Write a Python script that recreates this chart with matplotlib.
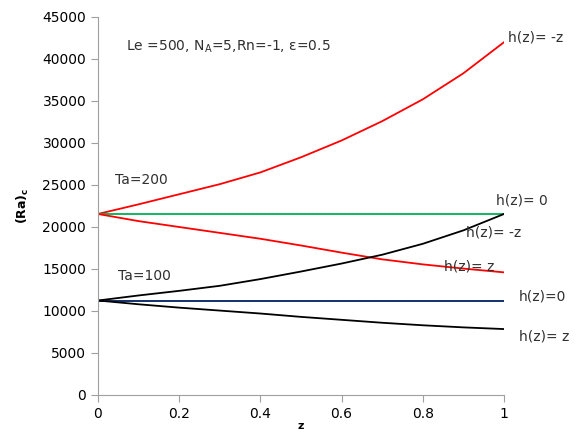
import matplotlib
matplotlib.use("Agg")
import matplotlib.pyplot as plt

z = [0, 0.1, 0.2, 0.3, 0.4, 0.5, 0.6, 0.7, 0.8, 0.9, 1.0]

ta200_hminus = [21550, 22700, 23900, 25100, 26500, 28300, 30300, 32600, 35200, 38300, 42000]
ta200_h0 = [21550] * 11
ta200_hplus = [21550, 20700, 20000, 19300, 18600, 17800, 16950, 16150, 15550, 15050, 14600]

ta100_hminus = [11250, 11850, 12400, 13000, 13800, 14700, 15650, 16700, 18000, 19600, 21550]
ta100_h0 = [11250] * 11
ta100_hplus = [11250, 10800, 10400, 10050, 9700, 9300, 8950, 8600, 8300, 8050, 7850]

xticks = [0, 0.2, 0.4, 0.6, 0.8, 1]
xticklabels = ["0", "0.2", "0.4", "0.6", "0.8", "1"]
yticks = list(range(0, 45001, 5000))

plt.rcParams['font.family'] = ['DejaVu Sans']
fig = plt.figure(figsize=(5.8, 4.32), dpi=100)
ax = fig.add_axes([98/580, 1 - 395/432, (504-98)/580, (395-17)/432])

lw = 1.3
ax.plot(z, ta200_hminus, color='#ff0000', lw=lw)
ax.plot(z, ta200_h0, color='#00b050', lw=lw)
ax.plot(z, ta200_hplus, color='#ff0000', lw=lw)
ax.plot(z, ta100_hminus, color='black', lw=lw)
ax.plot(z, ta100_h0, color='#002060', lw=lw)
ax.plot(z, ta100_hplus, color='black', lw=lw)

ax.set_xlim(0, 1)
ax.set_ylim(0, 45000)
ax.set_xticks(xticks)
ax.set_xticklabels(xticklabels)
ax.set_yticks(yticks)
for s in ['top', 'right']:
    ax.spines[s].set_visible(False)
for s in ['left', 'bottom']:
    ax.spines[s].set_color('#a0a0a0')
ax.tick_params(colors='#a0a0a0', labelcolor='black', labelsize=10, direction='out', length=5)

ax.set_xlabel('z', fontsize=8, fontweight='bold', labelpad=0)
ax.set_ylabel('(Ra)$_\\mathbf{c}$', fontsize=9, fontweight='bold', labelpad=8)

tk = dict(transform=ax.transData, fontsize=10, color='#303030', clip_on=False)
def px(x, y):
    return ((x - 98) / 406, (395 - y) / 378 * 45000)

ax.text(*px(126, 47), 'Le =500, N$_{\\mathrm{A}}$=5,Rn=-1, \u03b5=0.5', va='center', ha='left', **tk)
ax.text(*px(508, 38), 'h(z)= -z', va='center', ha='left', **tk)
ax.text(*px(115, 180), 'Ta=200', va='center', ha='left', **tk)
ax.text(*px(496, 201), 'h(z)= 0', va='center', ha='left', **tk)
ax.text(*px(466, 233), 'h(z)= -z', va='center', ha='left', **tk)
ax.text(*px(444, 267), 'h(z)= z', va='center', ha='left', **tk)
ax.text(*px(118, 276), 'Ta=100', va='center', ha='left', **tk)
ax.text(*px(519, 296), 'h(z)=0', va='center', ha='left', **tk)
ax.text(*px(519, 336), 'h(z)= z', va='center', ha='left', **tk)

fig.savefig('out.png', dpi=100)
